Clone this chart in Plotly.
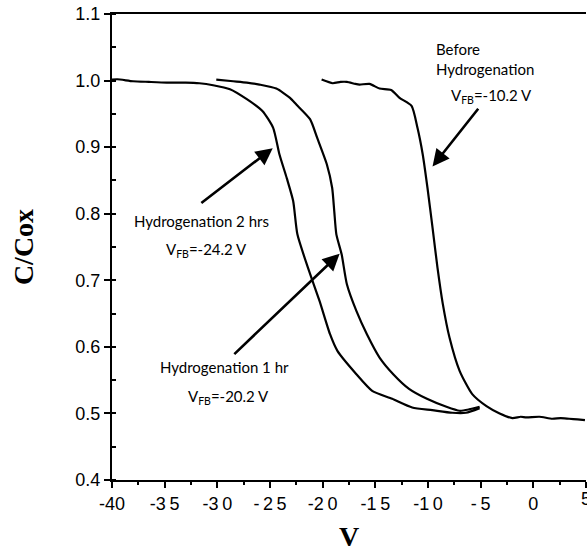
import plotly.graph_objects as go

# C-V curves (normalised capacitance vs gate voltage)
v_2hr = [-40.0, -39.5, -38.0, -36.5, -34.8, -33.0, -31.7, -30.4, -28.8, -27.2, -25.7, -24.7,
         -24.1, -23.4, -22.8, -22.4, -21.4, -20.3, -19.3, -18.6, -16.8, -15.3, -13.4,
         -11.5, -9.6, -7.7, -6.4, -5.1]
c_2hr = [1.0015, 1.002, 0.999, 0.998, 0.997, 0.997, 0.996, 0.993, 0.987, 0.972, 0.954, 0.929,
         0.889, 0.853, 0.819, 0.769, 0.719, 0.669, 0.619, 0.594, 0.559, 0.534, 0.522,
         0.509, 0.505, 0.501, 0.501, 0.508]

v_1hr = [-30.1, -28.5, -27.2, -26.0, -24.4, -23.1, -22.5, -21.2, -20.5, -19.6, -19.1, -18.9,
         -18.7, -18.2, -17.7, -16.8, -15.8, -14.6, -13.3, -11.8, -10.1, -8.25, -7.0,
         -6.1, -5.1]
c_1hr = [1.0015, 0.999, 0.997, 0.994, 0.988, 0.974, 0.964, 0.942, 0.913, 0.874, 0.839, 0.804,
         0.769, 0.739, 0.694, 0.654, 0.619, 0.584, 0.559, 0.537, 0.522, 0.510, 0.504,
         0.506, 0.510]

v_before = [-20.1, -19.05, -18.3, -17.7, -16.9, -16.5, -15.55, -14.6, -13.5, -12.7, -11.56,
            -11.0, -10.5, -10.05, -9.57, -9.1, -8.6, -7.96, -7.0, -5.8, -4.45, -3.2,
            -1.99, -1.2, -0.66, 0.57, 1.8, 2.6, 3.4, 4.2, 4.9]
c_before = [1.0015, 0.996, 0.998, 0.998, 0.995, 0.994, 0.995, 0.988, 0.986, 0.974, 0.962,
            0.929, 0.889, 0.839, 0.779, 0.719, 0.665, 0.614, 0.564, 0.529, 0.511, 0.500,
            0.493, 0.495, 0.494, 0.495, 0.492, 0.493, 0.492, 0.491, 0.490]

x_ticks = [-40, -35, -30, -25, -20, -15, -10, -5, 0, 5]
x_ticktext = ["-40", "-3\u20095", "-3\u20090", "-\u20092\u20095", "-2\u20090", "-1\u20095",
              "-1\u20090", "-\u20095", "0", "5"]
y_ticks = [0.4, 0.5, 0.6, 0.7, 0.8, 0.9, 1.0, 1.1]
y_ticktext = ["0.4", "0.5", "0.6", "0.7", "0.8", "0.9", "1.0", "1.1"]

line_style = dict(color="black", width=2.2, shape="spline", smoothing=0.6)

fig = go.Figure()
for v, c, name in [(v_2hr, c_2hr, "Hydrogenation 2 hrs"),
                   (v_1hr, c_1hr, "Hydrogenation 1 hr"),
                   (v_before, c_before, "Before Hydrogenation")]:
    fig.add_trace(go.Scatter(x=v, y=c, mode="lines", line=line_style, name=name,
                             showlegend=False))

label_font = dict(family="Lato", size=15, color="black")
tick_font = dict(family="Liberation Sans", size=18, color="black")
title_font = dict(family="Liberation Serif", size=28, color="black")


def arrow(x_tip, y_tip, x_tail, y_tail):
    fig.add_annotation(x=x_tip, y=y_tip, ax=x_tail, ay=y_tail, xref="x", yref="y",
                       axref="x", ayref="y", text="", showarrow=True, arrowhead=2,
                       arrowsize=1.3, arrowwidth=2.6, arrowcolor="black")


def label(x, y, text, xanchor="center", align="center"):
    fig.add_annotation(x=x, y=y, xref="x", yref="y", text=text, showarrow=False,
                       xanchor=xanchor, yanchor="middle", align=align, font=label_font)


arrow(-9.57, 0.871, -5.12, 0.960)
arrow(-24.74, 0.8985, -31.66, 0.8145)
arrow(-18.39, 0.740, -28.53, 0.587)

label(-9.4, 1.032, "Before<br>Hydrogenation", xanchor="left", align="left")
label(-8.0, 0.977, "V<sub>FB</sub>=-10.2 V", xanchor="left")
label(-31.5, 0.789, "Hydrogenation 2 hrs")
label(-31.0, 0.745, "V<sub>FB</sub>=-24.2 V")
label(-29.3, 0.569, "Hydrogenation 1 hr")
label(-28.9, 0.525, "V<sub>FB</sub>=-20.2 V")

# the last tick label sits on the figure edge, where the axis would drop it
fig.add_annotation(x=x_ticks[-1], y=0, xref="x", yref="paper", text=x_ticktext[-1],
                   showarrow=False, xanchor="center", yanchor="top", yshift=-7,
                   font=tick_font)

fig.update_xaxes(range=[-40, 5], tickvals=x_ticks, ticktext=x_ticktext,
                 showline=True, linecolor="black", linewidth=2, mirror=True,
                 ticks="outside", ticklen=6, tickwidth=2, tickcolor="black",
                 minor=dict(dtick=2.5, ticks="outside", ticklen=3, tickwidth=2,
                            tickcolor="black"),
                 showgrid=False, zeroline=False, tickfont=tick_font,
                 title=dict(text="<b>V</b>", font=title_font, standoff=15))
fig.update_yaxes(range=[0.4, 1.1], tickvals=y_ticks, ticktext=y_ticktext,
                 showline=True, linecolor="black", linewidth=2,
                 ticks="outside", ticklen=6, tickwidth=2, tickcolor="black",
                 minor=dict(dtick=0.05, ticks="inside", ticklen=4, tickwidth=2,
                            tickcolor="black"),
                 showgrid=False, zeroline=False, tickfont=tick_font,
                 title=dict(text="<b>C/Cox</b>", font=title_font, standoff=34))

fig.update_layout(width=587, height=552, margin=dict(l=112, r=1, t=14, b=72),
                  paper_bgcolor="white", plot_bgcolor="white")

fig.write_html("out.html")
